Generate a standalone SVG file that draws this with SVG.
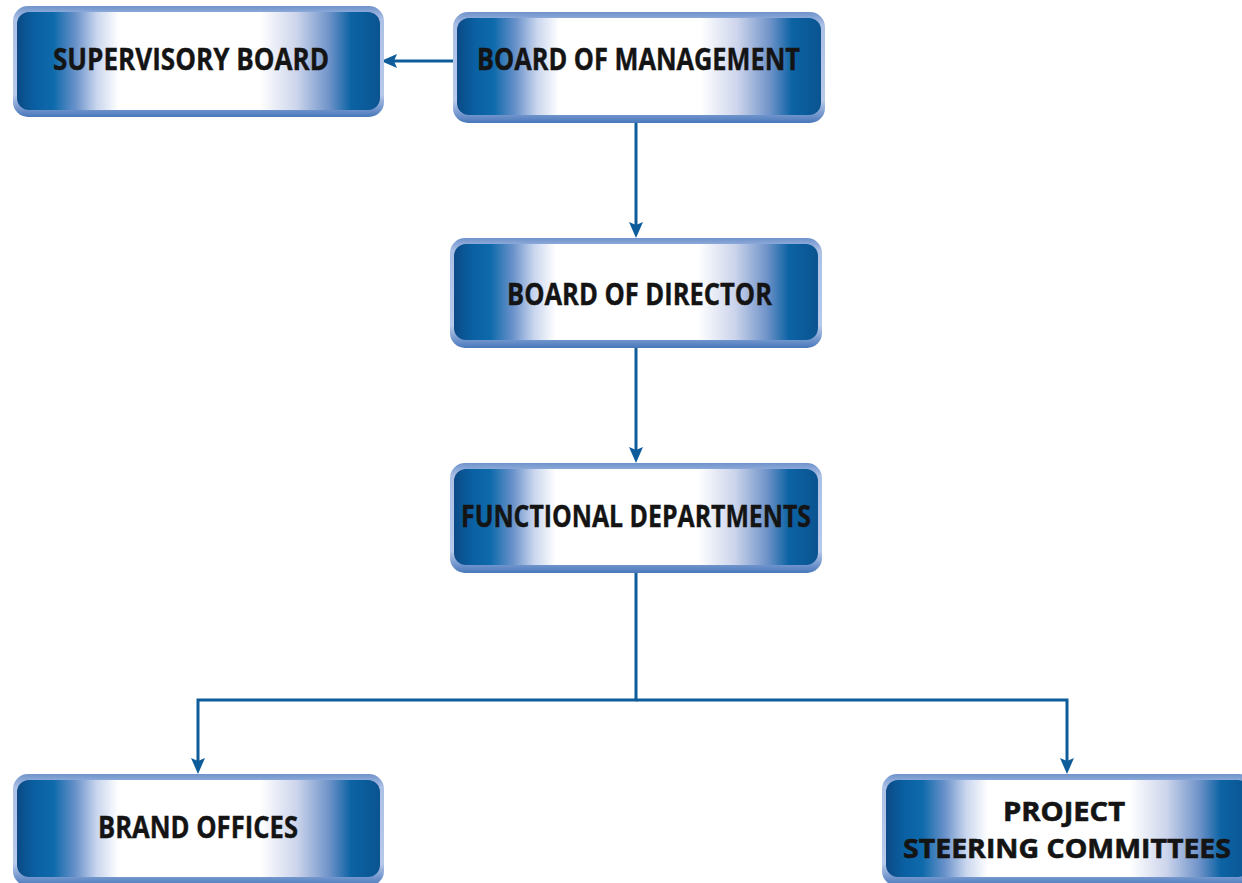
<svg xmlns="http://www.w3.org/2000/svg" width="1242" height="883" viewBox="0 0 1242 883">
<defs>
<linearGradient id="frame" x1="0" y1="0" x2="0" y2="1">
<stop offset="0" stop-color="#6f93cc"/>
<stop offset="0.12" stop-color="#adc1e6"/>
<stop offset="0.8" stop-color="#b8c9ea"/>
<stop offset="1" stop-color="#4877bb"/>
</linearGradient>
<linearGradient id="fill" x1="0" y1="0" x2="1" y2="0">
<stop offset="0" stop-color="#0b4a86"/>
<stop offset="0.05" stop-color="#0a60a2"/>
<stop offset="0.1" stop-color="#0e6aab"/>
<stop offset="0.16" stop-color="#6790c9"/>
<stop offset="0.22" stop-color="#c9d6ee"/>
<stop offset="0.28" stop-color="#ffffff"/>
<stop offset="0.67" stop-color="#ffffff"/>
<stop offset="0.77" stop-color="#cdd5ec"/>
<stop offset="0.86" stop-color="#6f93c9"/>
<stop offset="0.92" stop-color="#0c63a4"/>
<stop offset="1" stop-color="#0a5490"/>
</linearGradient>
<marker id="arr" markerUnits="userSpaceOnUse" markerWidth="18" markerHeight="16" refX="6" refY="7" orient="auto">
<path d="M0,0 L16,7 L0,14 L3,7 Z" fill="#0e5c9a"/>
</marker>
</defs>
<style>
.frame{fill:url(#frame)}
.inner{fill:url(#fill)}
.lbl{font-family:"Open Sans","DejaVu Sans",sans-serif;font-weight:bold;font-size:29.5px;fill:#141414;text-anchor:middle;stroke:#141414;stroke-width:0.4}
.sm{font-size:26.5px;stroke-width:0.6}
.con{stroke:#0e5c9a;stroke-width:3;fill:none}
</style>
<g id="connectors">
<line class="con" x1="453" y1="61" x2="391" y2="61" marker-end="url(#arr)"/>
<line class="con" x1="636" y1="123" x2="636" y2="228" marker-end="url(#arr)"/>
<line class="con" x1="636" y1="348" x2="636" y2="453" marker-end="url(#arr)"/>
<polyline class="con" points="636,573 636,700 198,700 198,764" marker-end="url(#arr)"/>
<polyline class="con" points="636,700 1067,700 1067,764" marker-end="url(#arr)"/>
</g>
<g id="supervisory-board">
<rect class="frame" x="13" y="6" width="371" height="111" rx="15"/>
<rect class="inner" x="17" y="12" width="363" height="98" rx="12"/>
<text class="lbl" x="191" y="70" textLength="276" lengthAdjust="spacingAndGlyphs">SUPERVISORY BOARD</text>
</g>
<g id="board-of-management">
<rect class="frame" x="453" y="12" width="372" height="111" rx="15"/>
<rect class="inner" x="457" y="18" width="364" height="97" rx="12"/>
<text class="lbl" x="638.500" y="70" textLength="323" lengthAdjust="spacingAndGlyphs">BOARD OF MANAGEMENT</text>
</g>
<g id="board-of-director">
<rect class="frame" x="450" y="238" width="372" height="110" rx="15"/>
<rect class="inner" x="454" y="244" width="364" height="96" rx="12"/>
<text class="lbl" x="639.500" y="305" textLength="265" lengthAdjust="spacingAndGlyphs">BOARD OF DIRECTOR</text>
</g>
<g id="functional-departments">
<rect class="frame" x="450" y="463" width="372" height="110" rx="15"/>
<rect class="inner" x="454" y="469" width="364" height="96" rx="12"/>
<text class="lbl" x="636" y="527" textLength="350" lengthAdjust="spacingAndGlyphs">FUNCTIONAL DEPARTMENTS</text>
</g>
<g id="brand-offices">
<rect class="frame" x="13" y="774" width="371" height="112" rx="15"/>
<rect class="inner" x="17" y="780" width="363" height="97" rx="12"/>
<text class="lbl" x="198" y="838" textLength="200" lengthAdjust="spacingAndGlyphs">BRAND OFFICES</text>
</g>
<g id="project-steering-committees">
<rect class="frame" x="882" y="774" width="372" height="112" rx="15"/>
<rect class="inner" x="886" y="780" width="364" height="97" rx="12"/>
<text class="lbl sm" x="1064" y="821" textLength="122" lengthAdjust="spacingAndGlyphs">PROJECT</text>
<text class="lbl sm" x="1067" y="858" textLength="328" lengthAdjust="spacingAndGlyphs">STEERING COMMITTEES</text>
</g>
</svg>
